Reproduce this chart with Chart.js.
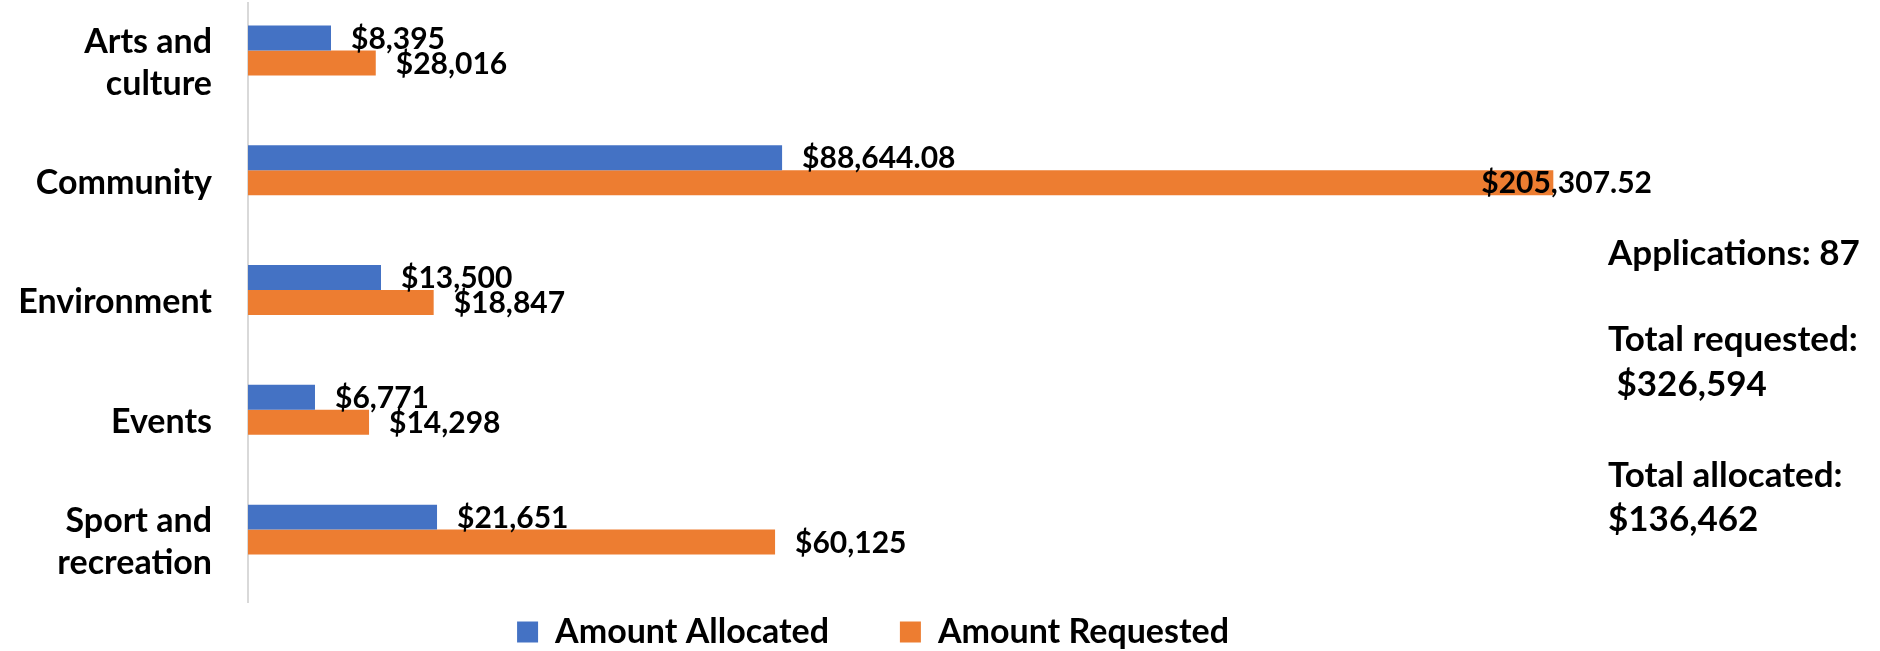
<!DOCTYPE html>
<html>
<head>
<meta charset="utf-8">
<script src="https://cdn.jsdelivr.net/npm/chart.js@4.4.1/dist/chart.umd.min.js"></script>
<style>
  html, body { margin: 0; padding: 0; background: #fff; }
  #wrap { width: 1880px; height: 651px; }
</style>
</head>
<body>
<div id="wrap"><canvas id="chart"></canvas></div>
<script>
const categories = [["Arts and", "culture"], "Community", "Environment", "Events", ["Sport and", "recreation"]];

// bar lengths as they appear in the picture (one common scale)
const amountAllocated = [8400, 54050, 13460, 6780, 19130];
const amountRequested = [12930, 132100, 18790, 12250, 53340];

// value labels printed beside the bars
const allocatedLabels = ["$8,395", "$88,644.08", "$13,500", "$6,771", "$21,651"];
const requestedLabels = ["$28,016", "$205,307.52", "$18,847", "$14,298", "$60,125"];

const summaryLines = ["Applications: 87", "Total requested:", " $326,594", "Total allocated:", "$136,462"];

const FONT = "Lato, 'Open Sans', sans-serif";

const valueLabels = {
  id: "valueLabels",
  afterDatasetsDraw(chart) {
    const ctx = chart.ctx;
    ctx.save();
    ctx.font = "bold 30px " + FONT;
    ctx.fillStyle = "#000";
    ctx.textBaseline = "middle";
    [allocatedLabels, requestedLabels].forEach((texts, di) => {
      chart.getDatasetMeta(di).data.forEach((bar, i) => {
        const w = ctx.measureText(texts[i]).width;
        let x = bar.x + 20;
        if (x + w > 1652) x = 1652 - w; // keep inside the chart box
        ctx.fillText(texts[i], x, bar.y + 1);
      });
    });
    ctx.restore();
  }
};

const summaryText = {
  id: "summaryText",
  afterDraw(chart) {
    const ctx = chart.ctx;
    const baselines = [265, 351, 396, 487, 531];
    ctx.save();
    ctx.font = "bold 35px " + FONT;
    ctx.fillStyle = "#000";
    ctx.textBaseline = "alphabetic";
    summaryLines.forEach((line, i) => {
      ctx.fillText(line, 1608, baselines[i]);
    });
    ctx.restore();
  }
};

new Chart(document.getElementById("chart"), {
  type: "bar",
  data: {
    labels: categories,
    datasets: [
      {
        label: "Amount Allocated",
        data: amountAllocated,
        backgroundColor: "#4472C4"
      },
      {
        label: "Amount Requested",
        data: amountRequested,
        backgroundColor: "#ED7D31"
      },
      {
        // empty third series, keeps the pair sitting high in each band
        label: "",
        data: categories.map(() => null),
        backgroundColor: "rgba(0,0,0,0)"
      }
    ]
  },
  options: {
    indexAxis: "y",
    responsive: true,
    maintainAspectRatio: false,
    animation: false,
    categoryPercentage: 0.625,
    barPercentage: 1.0,
    layout: {
      padding: { top: 3, right: 134, bottom: -8, left: 0 }
    },
    scales: {
      x: {
        display: false,
        min: 0,
        max: 151600
      },
      y: {
        grid: { display: false, drawTicks: false },
        border: { display: true, color: "#d9d9d9", width: 2 },
        ticks: {
          color: "#000",
          padding: 36,
          font: { family: FONT, size: 34, weight: "bold", lineHeight: 1.24 }
        },
        afterFit(scale) {
          scale.width = 248;
          scale.paddingTop = 0;
          scale.paddingBottom = 0;
        }
      }
    },
    plugins: {
      legend: {
        position: "bottom",
        labels: {
          filter: (item) => item.datasetIndex < 2,
          generateLabels(chart) {
            const items = Chart.defaults.plugins.legend.labels.generateLabels(chart);
            // wider gap after the first entry, as in the original
            items[0].text = items[0].text + "       ";
            return items;
          },
          boxWidth: 21,
          boxHeight: 21,
          padding: 13,
          color: "#000",
          font: { family: FONT, size: 34, weight: "bold" }
        }
      },
      tooltip: { enabled: false }
    }
  },
  plugins: [valueLabels, summaryText]
});
</script>
</body>
</html>
